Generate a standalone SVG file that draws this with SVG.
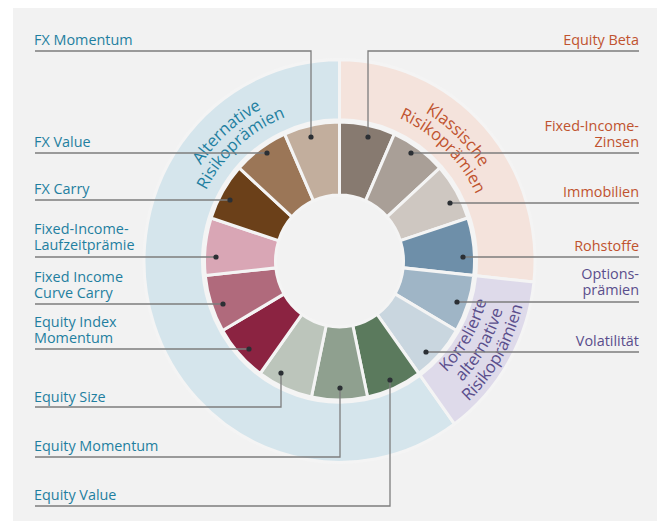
<svg xmlns="http://www.w3.org/2000/svg" width="657" height="521" viewBox="0 0 657 521">
<style>
.seg{stroke:#f4f4f4;stroke-width:3;stroke-linejoin:round}
.band{stroke:#f4f4f4;stroke-width:3}
.lbl{font-family:"Open Sans","Noto Sans",sans-serif;font-size:14.4px}
.bt{font-family:"Open Sans","Noto Sans",sans-serif;font-size:16.4px}
.alt{fill:#1f7fa0}
.kla{fill:#c0532f}
.kor{fill:#5a4e8c}
.end{text-anchor:end}
.lead{fill:none;stroke:#7d7d7d;stroke-width:1.3}
.dot{fill:#2b2f34}
</style>
<defs>
<path id="pAlt1" d="M-166.77 -8.74 A167 167 0 0 1 8.74 -166.77"/>
<path id="pAlt2" d="M-149.79 -7.85 A150 150 0 0 1 7.85 -149.79"/>
<path id="pKla1" d="M-2.93 -167.97 A168 168 0 0 1 167.97 -2.93"/>
<path id="pKla2" d="M-2.64 -150.98 A151 151 0 0 1 150.98 -2.64"/>
<path id="pKor1" d="M39.34 146.82 A152 152 0 0 0 146.82 -39.34"/>
<path id="pKor2" d="M44 164.21 A170 170 0 0 0 164.21 -44"/>
<path id="pKor3" d="M48.66 181.59 A188 188 0 0 0 181.59 -48.66"/>
</defs>
<rect width="657" height="521" fill="#ffffff"/>
<rect x="13" y="8" width="644" height="513" fill="#f2f2f2"/>

<g id="cat-alternative" transform="translate(339.5 261) scale(1 1.03)">
<path class="band" fill="#d5e5ec" d="M114.91 158.16 A195.5 195.5 0 1 1 0 -195.5 L0 -137 A137 137 0 1 0 80.53 110.83 Z"/>
<text class="bt alt"><textPath href="#pAlt1" startOffset="50%" text-anchor="middle">Alternative</textPath></text>
<text class="bt alt"><textPath href="#pAlt2" startOffset="50%" text-anchor="middle">Risikoprämien</textPath></text>
</g>
<g id="cat-klassische" transform="translate(339.5 261) scale(1 1.03)">
<path class="band" fill="#f4e3dc" d="M0 -195.5 A195.5 195.5 0 0 1 194.43 20.44 L136.25 14.32 A137 137 0 0 0 0 -137 Z"/>
<text class="bt kla"><textPath href="#pKla1" startOffset="50%" text-anchor="middle">Klassische</textPath></text>
<text class="bt kla"><textPath href="#pKla2" startOffset="50%" text-anchor="middle">Risikoprämien</textPath></text>
</g>
<g id="cat-korrelierte" transform="translate(339.5 261) scale(1 1.03)">
<path class="band" fill="#dedaea" d="M194.43 20.44 A195.5 195.5 0 0 1 114.91 158.16 L80.53 110.83 A137 137 0 0 0 136.25 14.32 Z"/>
<text class="bt kor"><textPath href="#pKor1" startOffset="50%" text-anchor="middle">Korrelierte</textPath></text>
<text class="bt kor"><textPath href="#pKor2" startOffset="50%" text-anchor="middle">alternative</textPath></text>
<text class="bt kor"><textPath href="#pKor3" startOffset="50%" text-anchor="middle">Risikoprämien</textPath></text>
</g>

<g id="n-equity-beta">
<path class="seg" fill="#877a70" transform="translate(339.5 261) scale(1 1.03)" d="M0 -135 A135 135 0 0 1 54.91 -123.33 L26.03 -58.47 A64 64 0 0 0 0 -64 Z"/>
<text class="lbl kla end" x="639" y="44.5">Equity Beta</text>
</g>
<g id="n-fi-zinsen">
<path class="seg" fill="#a99f97" transform="translate(339.5 261) scale(1 1.03)" d="M54.91 -123.33 A135 135 0 0 1 100.32 -90.33 L47.56 -42.82 A64 64 0 0 0 26.03 -58.47 Z"/>
<text class="lbl kla end" x="639" y="131">Fixed-Income-</text>
<text class="lbl kla end" x="639" y="147">Zinsen</text>
</g>
<g id="n-immobilien">
<path class="seg" fill="#cec7c1" transform="translate(339.5 261) scale(1 1.03)" d="M100.32 -90.33 A135 135 0 0 1 128.39 -41.72 L60.87 -19.78 A64 64 0 0 0 47.56 -42.82 Z"/>
<text class="lbl kla end" x="639" y="197">Immobilien</text>
</g>
<g id="n-rohstoffe">
<path class="seg" fill="#6e8fa9" transform="translate(339.5 261) scale(1 1.03)" d="M128.39 -41.72 A135 135 0 0 1 134.26 14.11 L63.65 6.69 A64 64 0 0 0 60.87 -19.78 Z"/>
<text class="lbl kla end" x="639" y="250.5">Rohstoffe</text>
</g>
<g id="n-optionspraemien">
<path class="seg" fill="#9fb5c6" transform="translate(339.5 261) scale(1 1.03)" d="M134.26 14.11 A135 135 0 0 1 116.91 67.5 L55.43 32 A64 64 0 0 0 63.65 6.69 Z"/>
<text class="lbl kor end" x="639" y="279">Options-</text>
<text class="lbl kor end" x="639" y="295">prämien</text>
</g>
<g id="n-volatilitaet">
<path class="seg" fill="#c9d6df" transform="translate(339.5 261) scale(1 1.03)" d="M116.91 67.5 A135 135 0 0 1 79.35 109.22 L37.62 51.78 A64 64 0 0 0 55.43 32 Z"/>
<text class="lbl kor end" x="639" y="346">Volatilität</text>
</g>
<g id="n-equity-value">
<path class="seg" fill="#5b7a5d" transform="translate(339.5 261) scale(1 1.03)" d="M79.35 109.22 A135 135 0 0 1 28.07 132.05 L13.31 62.6 A64 64 0 0 0 37.62 51.78 Z"/>
<text class="lbl alt" x="34" y="500">Equity Value</text>
</g>
<g id="n-equity-momentum">
<path class="seg" fill="#8fa08f" transform="translate(339.5 261) scale(1 1.03)" d="M28.07 132.05 A135 135 0 0 1 -28.07 132.05 L-13.31 62.6 A64 64 0 0 0 13.31 62.6 Z"/>
<text class="lbl alt" x="34" y="450.5">Equity Momentum</text>
</g>
<g id="n-equity-size">
<path class="seg" fill="#bcc5bb" transform="translate(339.5 261) scale(1 1.03)" d="M-28.07 132.05 A135 135 0 0 1 -79.35 109.22 L-37.62 51.78 A64 64 0 0 0 -13.31 62.6 Z"/>
<text class="lbl alt" x="34" y="401.5">Equity Size</text>
</g>
<g id="n-equity-index-momentum">
<path class="seg" fill="#8b2341" transform="translate(339.5 261) scale(1 1.03)" d="M-79.35 109.22 A135 135 0 0 1 -116.91 67.5 L-55.43 32 A64 64 0 0 0 -37.62 51.78 Z"/>
<text class="lbl alt" x="34" y="326.5">Equity Index</text>
<text class="lbl alt" x="34" y="342.5">Momentum</text>
</g>
<g id="n-curve-carry">
<path class="seg" fill="#b06a7c" transform="translate(339.5 261) scale(1 1.03)" d="M-116.91 67.5 A135 135 0 0 1 -134.26 14.11 L-63.65 6.69 A64 64 0 0 0 -55.43 32 Z"/>
<text class="lbl alt" x="34" y="281.5">Fixed Income</text>
<text class="lbl alt" x="34" y="297.5">Curve Carry</text>
</g>
<g id="n-laufzeitpraemie">
<path class="seg" fill="#d9a6b5" transform="translate(339.5 261) scale(1 1.03)" d="M-134.26 14.11 A135 135 0 0 1 -128.39 -41.72 L-60.87 -19.78 A64 64 0 0 0 -63.65 6.69 Z"/>
<text class="lbl alt" x="34" y="234">Fixed-Income-</text>
<text class="lbl alt" x="34" y="250">Laufzeitprämie</text>
</g>
<g id="n-fx-carry">
<path class="seg" fill="#6b4019" transform="translate(339.5 261) scale(1 1.03)" d="M-128.39 -41.72 A135 135 0 0 1 -100.32 -90.33 L-47.56 -42.82 A64 64 0 0 0 -60.87 -19.78 Z"/>
<text class="lbl alt" x="34" y="193.5">FX Carry</text>
</g>
<g id="n-fx-value">
<path class="seg" fill="#9b7657" transform="translate(339.5 261) scale(1 1.03)" d="M-100.32 -90.33 A135 135 0 0 1 -54.91 -123.33 L-26.03 -58.47 A64 64 0 0 0 -47.56 -42.82 Z"/>
<text class="lbl alt" x="34" y="146.5">FX Value</text>
</g>
<g id="n-fx-momentum">
<path class="seg" fill="#c2ae9d" transform="translate(339.5 261) scale(1 1.03)" d="M-54.91 -123.33 A135 135 0 0 1 0 -135 L0 -64 A64 64 0 0 0 -26.03 -58.47 Z"/>
<text class="lbl alt" x="34" y="44.5">FX Momentum</text>
</g>

<g id="connectors">
<path class="lead" d="M35 51 H311 V137"/>
<path class="lead" d="M35 153 H267"/>
<path class="lead" d="M35 200 H230"/>
<path class="lead" d="M35 257 H216"/>
<path class="lead" d="M35 304 H223"/>
<path class="lead" d="M35 349 H249"/>
<path class="lead" d="M35 407 H281 V373"/>
<path class="lead" d="M35 457 H340 V388"/>
<path class="lead" d="M35 506 H390 V380"/>
<path class="lead" d="M639 51 H368 V137"/>
<path class="lead" d="M639 153 H411"/>
<path class="lead" d="M639 203 H450"/>
<path class="lead" d="M639 257 H463"/>
<path class="lead" d="M639 302 H457"/>
<path class="lead" d="M639 352 H426"/>
<circle class="dot" cx="311" cy="137" r="2.6"/>
<circle class="dot" cx="267" cy="153" r="2.6"/>
<circle class="dot" cx="230" cy="200" r="2.6"/>
<circle class="dot" cx="216" cy="257" r="2.6"/>
<circle class="dot" cx="223" cy="304" r="2.6"/>
<circle class="dot" cx="249" cy="349" r="2.6"/>
<circle class="dot" cx="281" cy="373" r="2.6"/>
<circle class="dot" cx="340" cy="388" r="2.6"/>
<circle class="dot" cx="390" cy="380" r="2.6"/>
<circle class="dot" cx="368" cy="137" r="2.6"/>
<circle class="dot" cx="411" cy="153" r="2.6"/>
<circle class="dot" cx="450" cy="203" r="2.6"/>
<circle class="dot" cx="463" cy="257" r="2.6"/>
<circle class="dot" cx="457" cy="302" r="2.6"/>
<circle class="dot" cx="426" cy="352" r="2.6"/>
</g>
</svg>
